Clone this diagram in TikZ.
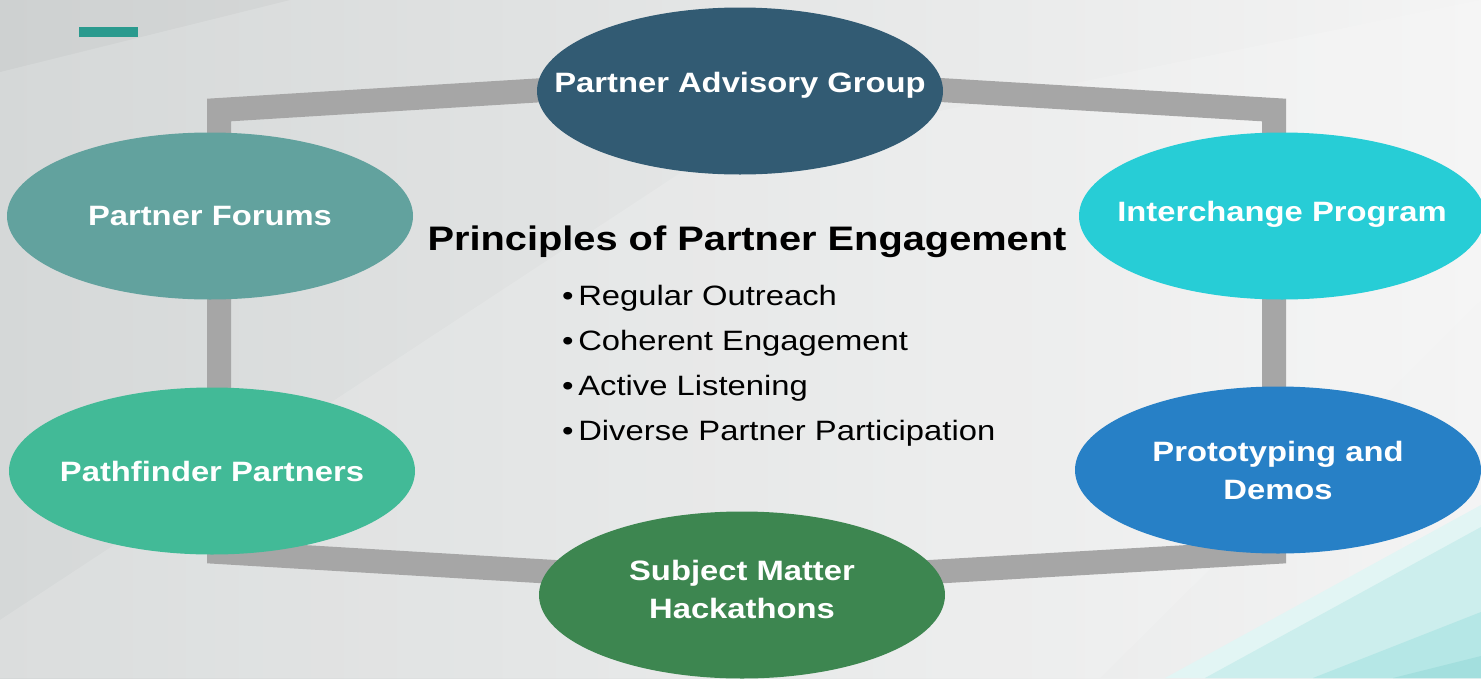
\documentclass[tikz,border=0pt]{standalone}
\usepackage{fontspec}
\setmainfont{Liberation Sans}[FakeStretch=1.17]
\usetikzlibrary{positioning,shapes.geometric}

\definecolor{bgleft}{HTML}{D5D8D8}
\definecolor{bgright}{HTML}{F4F4F4}
\definecolor{framegray}{HTML}{A6A6A6}
\definecolor{tealbar}{HTML}{2A9A8E}
\definecolor{advisory}{HTML}{325B73}
\definecolor{forums}{HTML}{62A29E}
\definecolor{interchange}{HTML}{27CDD6}
\definecolor{pathfinder}{HTML}{42BA97}
\definecolor{prototyping}{HTML}{2780C6}
\definecolor{hackathons}{HTML}{3D8650}
\definecolor{cyanA}{HTML}{E2F5F4}
\definecolor{cyanB}{HTML}{CCEEED}
\definecolor{cyanC}{HTML}{B5E7E6}
\definecolor{cyanD}{HTML}{A3DFDE}

\tikzset{
  bubble/.style={ellipse, inner xsep=-120pt, inner ysep=0pt, minimum width=406pt, minimum height=167pt,
    text=white, align=center, font=\bfseries\fontsize{28}{38}\selectfont},
  bullet/.style={anchor=base west, inner sep=0pt, font=\fontsize{28}{34}\selectfont}
}

\begin{document}
\begin{tikzpicture}[x=1pt,y=-1pt]
\useasboundingbox (0,0) rectangle (1481,678);
% background
\fill[left color=bgleft, right color=bgright] (0,0) rectangle (1481,678);
\fill[black, opacity=0.03] (0,0) -- (290,0) -- (0,72) -- cycle;
\fill[white, opacity=0.15] (0,678) -- (0,620) -- (700,160) -- (1481,0) -- (1481,300) -- (1100,678) -- cycle;
\fill[cyanA] (1165,678) -- (1481,505) -- (1481,678) -- cycle;
\fill[cyanB] (1205,678) -- (1481,527) -- (1481,678) -- cycle;
\fill[cyanC] (1313,678) -- (1481,612) -- (1481,678) -- cycle;
\fill[cyanD] (1393,678) -- (1481,656) -- (1481,678) -- cycle;
\fill[tealbar] (79,27) rectangle (138,37);

% frame
\coordinate (tl) at (219,110);
\coordinate (tc) at (740,78);
\coordinate (tr) at (1274,110);
\coordinate (br) at (1274,552);
\coordinate (bc) at (740,583);
\coordinate (bl) at (219,552);
\draw[framegray, line width=24pt, miter limit=10] (tl) -- (tc) -- (tr) -- (br) -- (bc) -- (bl) -- cycle;

% ellipses
\node[bubble, fill=advisory, text depth=18pt] (adv) at (740,91) {Partner Advisory Group};
\node[bubble, fill=forums] (forums) at (210,216) {Partner Forums};
\node[bubble, fill=interchange, text depth=10pt] (inter) at (1282,216) {Interchange Program};
\node[bubble, fill=pathfinder] (path) at (212,471) {Pathfinder Partners};
\node[bubble, fill=prototyping] (proto) at (1278,470) {Prototyping and\\Demos};
\node[bubble, fill=hackathons, text depth=12pt] (hack) at (742,595) {Subject Matter\\Hackathons};

% principles
\node[anchor=base, inner sep=0pt, font=\bfseries\fontsize{34}{40}\selectfont] (title) at (747,250) {Principles of Partner Engagement};
\node[bullet] (p1) at (562,305) {•\,Regular Outreach};
\node[bullet] (p2) at (562,350) {•\,Coherent Engagement};
\node[bullet] (p3) at (562,395) {•\,Active Listening};
\node[bullet] (p4) at (562,440) {•\,Diverse Partner Participation};
\end{tikzpicture}
\end{document}
